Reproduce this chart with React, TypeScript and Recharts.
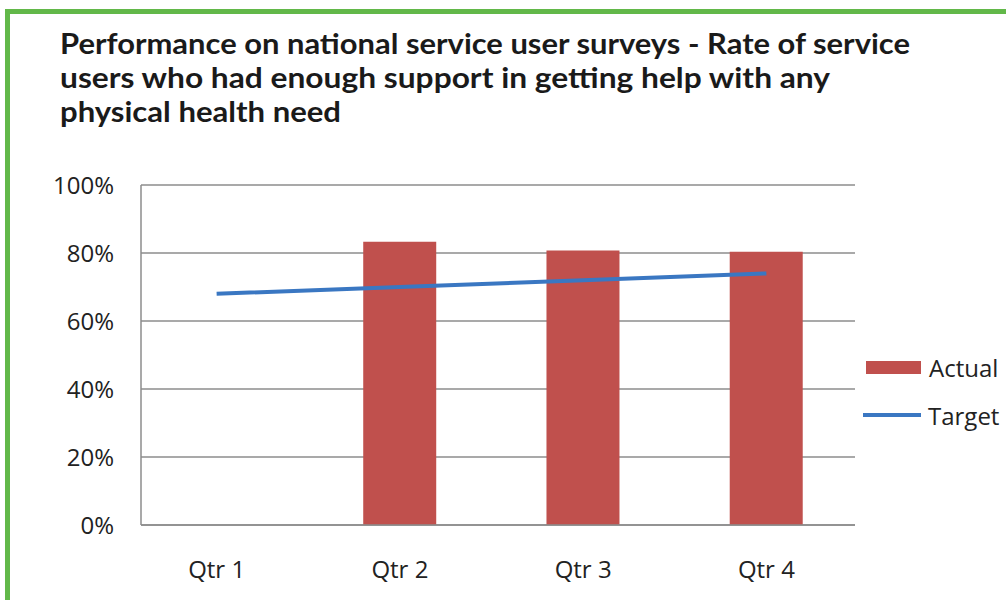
import React from "react";
import { ComposedChart, Bar, Line, XAxis, YAxis, CartesianGrid, Legend } from "recharts";

const quarters = ["Qtr 1", "Qtr 2", "Qtr 3", "Qtr 4"];
const actualValues: (number | null)[] = [null, 83.3, 80.7, 80.4];
const targetValues = [68, 70, 72, 74];
const yTicks = [0, 20, 40, 60, 80, 100];
const titleLines = [
  "Performance on national service user surveys - Rate of service",
  "users who had enough support in getting help with any",
  "physical health need",
];
const titleWidths = [850, 770, 281];

const data = quarters.map((q, i) => ({ name: q, Actual: actualValues[i], Target: targetValues[i] }));

const RED = "#c0504d";
const BLUE = "#3a77c2";
const GREEN = "#62b849";
const TICK_FONT = "'Open Sans', 'DejaVu Sans', sans-serif";

const LegendContent = (props: any) => {
  const payload = props.payload || [];
  return (
    <div style={{ fontFamily: TICK_FONT, fontSize: 24, color: "#222" }}>
      {payload.map((e: any, i: number) => (
        <div key={i} style={{ display: "flex", alignItems: "center", height: 48 }}>
          {e.type === "line" ? (
            <div style={{ width: 58, height: 4, background: e.color, marginRight: 7 }} />
          ) : (
            <div style={{ width: 55, height: 13, background: e.color, marginRight: 8, marginLeft: 3 }} />
          )}
          <span>{e.value}</span>
        </div>
      ))}
    </div>
  );
};

export default function App() {
  return (
    <div style={{ position: "absolute", left: 0, top: 0, width: 1006, height: 600, background: "#fff", overflow: "hidden" }}>
      <div
        style={{
          position: "absolute",
          left: 5,
          top: 9,
          width: 1006,
          height: 600,
          borderTop: `5px solid ${GREEN}`,
          borderLeft: `5px solid ${GREEN}`,
          boxSizing: "border-box",
        }}
      />
      <svg width={1006} height={140} style={{ position: "absolute", left: 0, top: 0 }}>
        {titleLines.map((t, i) => (
          <text
            key={i}
            x={60}
            y={54 + i * 34}
            textLength={titleWidths[i]}
            lengthAdjust="spacingAndGlyphs"
            style={{ fontFamily: "'Liberation Sans Narrow', 'Lato', sans-serif", fontWeight: 700, fontSize: 29, fill: "#1a1a1a" }}
          >
            {t}
          </text>
        ))}
      </svg>
      <div style={{ position: "absolute", left: 0, top: 0 }}>
        <ComposedChart
          width={1006}
          height={600}
          data={data}
          margin={{ top: 185, right: 8, bottom: 0, left: 0 }}
          barCategoryGap="30%"
        >
          <CartesianGrid vertical={false} horizontal stroke="#8c8c8c" strokeWidth={1.5} />
          <XAxis
            dataKey="name"
            height={75}
            padding={{ left: -16, right: -3 }}
            axisLine={{ stroke: "#8c8c8c", strokeWidth: 1.5 }}
            tickLine={false}
            tickSize={0}
            tickMargin={36}
            tick={{ fill: "#222", fontSize: 24, fontFamily: TICK_FONT }}
          />
          <YAxis
            width={141}
            domain={[0, 100]}
            ticks={yTicks}
            tickFormatter={(v: number) => `${v}%`}
            axisLine={{ stroke: "#8c8c8c", strokeWidth: 1.5 }}
            tickLine={false}
            tickSize={0}
            tickMargin={27}
            tick={{ fill: "#222", fontSize: 24, fontFamily: TICK_FONT }}
          />
          <Legend
            layout="vertical"
            align="right"
            verticalAlign="middle"
            content={<LegendContent />}
            wrapperStyle={{ left: 863, top: 343, width: 143 }}
          />
          <Bar dataKey="Actual" fill={RED} isAnimationActive={false} />
          <Line
            dataKey="Target"
            type="linear"
            stroke={BLUE}
            strokeWidth={4}
            dot={false}
            activeDot={false}
            isAnimationActive={false}
          />
        </ComposedChart>
      </div>
    </div>
  );
}
